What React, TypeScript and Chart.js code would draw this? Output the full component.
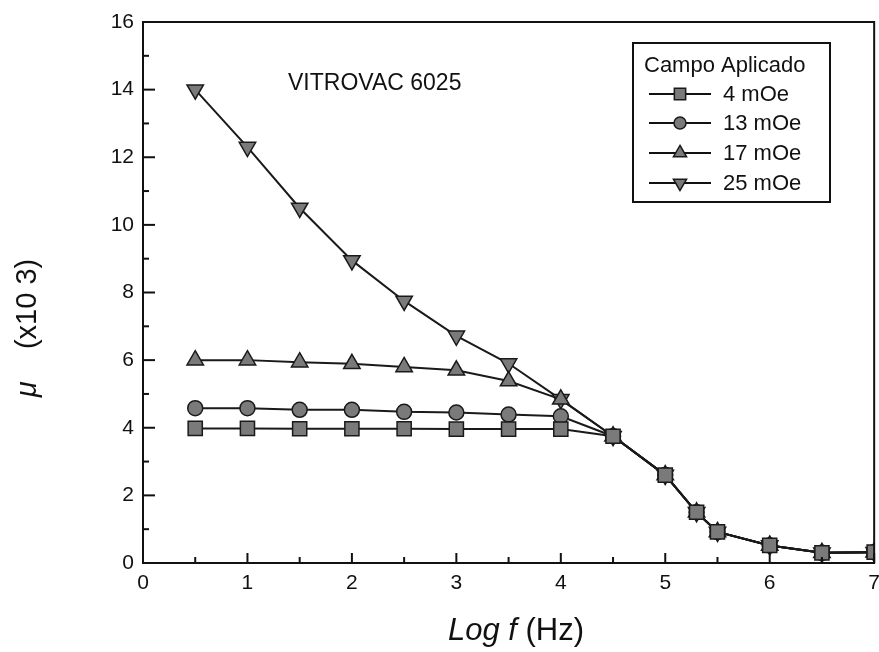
import React, { useEffect, useRef } from "react";
import { Chart, registerables } from "chart.js";

Chart.register(...registerables);

// ---- Data ----
const xLow = [0.5, 1, 1.5, 2, 2.5, 3, 3.5, 4];
const xTail = [4.5, 5, 5.3, 5.5, 6, 6.5, 7];
const tailValues = [3.75, 2.6, 1.5, 0.92, 0.52, 0.3, 0.32];

const series4 = [3.98, 3.98, 3.97, 3.97, 3.97, 3.96, 3.96, 3.96];
const series13 = [4.58, 4.58, 4.53, 4.53, 4.47, 4.45, 4.39, 4.34];
const series17 = [6.0, 6.0, 5.94, 5.89, 5.8, 5.7, 5.38, 4.84];
const series25 = [14.0, 12.3, 10.5, 8.95, 7.75, 6.72, 5.9, 4.84];

const seriesLabels = ["4 mOe", "13 mOe", "17 mOe", "25 mOe"];
const legendTitle = "Campo Aplicado";
const annotationText = "VITROVAC 6025";
const xTitleItalic = "Log f";
const xTitleNormal = " (Hz)";
const yTitleItalic = "\u03BC";
const yTitleNormal = "    (x10 3)";

const FONT = "'Liberation Sans', Arial, Helvetica, sans-serif";
const FILL = "#7a7a7a";
const STROKE = "#1a1a1a";

function toPoints(vals: number[]) {
  const pts = xLow.map((x, i) => ({ x, y: vals[i] }));
  return pts.concat(xTail.map((x, i) => ({ x, y: tailValues[i] })));
}

const styles = [
  { pointStyle: "rect", radius: 10, rotation: 0 },
  { pointStyle: "circle", radius: 7.5, rotation: 0 },
  { pointStyle: "triangle", radius: 9.5, rotation: 0 },
  { pointStyle: "triangle", radius: 9.5, rotation: 180 },
];

const allSeries = [series4, series13, series17, series25];

function drawMarker(ctx: CanvasRenderingContext2D, style: string, r: number, rot: number, x: number, y: number) {
  ctx.save();
  ctx.translate(x, y);
  ctx.rotate((rot * Math.PI) / 180);
  ctx.beginPath();
  if (style === "rect") {
    const s = r * Math.SQRT1_2;
    ctx.rect(-s, -s, 2 * s, 2 * s);
  } else if (style === "circle") {
    ctx.arc(0, 0, r, 0, Math.PI * 2);
  } else {
    for (let k = 0; k < 3; k++) {
      const a = -Math.PI / 2 + (k * 2 * Math.PI) / 3;
      const px = Math.cos(a) * r;
      const py = Math.sin(a) * r;
      if (k === 0) ctx.moveTo(px, py);
      else ctx.lineTo(px, py);
    }
    ctx.closePath();
  }
  ctx.fillStyle = FILL;
  ctx.strokeStyle = STROKE;
  ctx.lineWidth = 1.5;
  ctx.fill();
  ctx.stroke();
  ctx.restore();
}

const framePlugin = {
  id: "framePlugin",
  afterDraw(chart: any) {
    const ctx: CanvasRenderingContext2D = chart.ctx;
    const { left, right, top, bottom } = chart.chartArea;
    const xs = chart.scales.x;
    const ys = chart.scales.y;
    ctx.save();
    // frame
    ctx.strokeStyle = "#111";
    ctx.lineWidth = 2;
    ctx.strokeRect(left, top, right - left, bottom - top);
    // inward ticks
    for (let v = 0; v <= 16; v++) {
      const y = ys.getPixelForValue(v);
      const len = v % 2 === 0 ? 12 : 6;
      ctx.beginPath();
      ctx.moveTo(left, y);
      ctx.lineTo(left + len, y);
      ctx.stroke();
    }
    for (let v = 0; v <= 7; v += 0.5) {
      const x = xs.getPixelForValue(v);
      const len = Number.isInteger(v) ? 10 : 6;
      ctx.beginPath();
      ctx.moveTo(x, bottom);
      ctx.lineTo(x, bottom - len);
      ctx.stroke();
    }

    // annotation
    ctx.fillStyle = "#111";
    ctx.font = `23px ${FONT}`;
    ctx.textAlign = "left";
    ctx.textBaseline = "middle";
    ctx.fillText(annotationText, 288, 84);

    // legend
    const lx = 633, ly = 43, lw = 197, lh = 159;
    ctx.lineWidth = 2;
    ctx.strokeStyle = "#111";
    ctx.strokeRect(lx, ly, lw, lh);
    ctx.font = `22px ${FONT}`;
    ctx.fillText(legendTitle, lx + 11, ly + 23);
    const rows = [94, 123, 153, 183];
    for (let i = 0; i < 4; i++) {
      const ry = rows[i];
      ctx.beginPath();
      ctx.lineWidth = 2;
      ctx.moveTo(649, ry);
      ctx.lineTo(711, ry);
      ctx.stroke();
      drawMarker(ctx, styles[i].pointStyle, styles[i].radius * 0.8, styles[i].rotation, 680, ry);
      ctx.fillStyle = "#111";
      ctx.fillText(seriesLabels[i], 723, ry + 1);
    }

    // x title
    const xf = 31;
    ctx.font = `italic ${xf}px ${FONT}`;
    const w1 = ctx.measureText(xTitleItalic).width;
    ctx.font = `${xf}px ${FONT}`;
    const w2 = ctx.measureText(xTitleNormal).width;
    const cx = 516;
    const ty = 631;
    ctx.textAlign = "left";
    ctx.font = `italic ${xf}px ${FONT}`;
    ctx.fillText(xTitleItalic, cx - (w1 + w2) / 2, ty);
    ctx.font = `${xf}px ${FONT}`;
    ctx.fillText(xTitleNormal, cx - (w1 + w2) / 2 + w1, ty);

    // y title (rotated)
    const yf = 29;
    ctx.save();
    ctx.translate(28, 328);
    ctx.rotate(-Math.PI / 2);
    ctx.font = `italic ${yf}px ${FONT}`;
    const v1 = ctx.measureText(yTitleItalic).width;
    ctx.font = `${yf}px ${FONT}`;
    const v2 = ctx.measureText(yTitleNormal).width;
    ctx.font = `italic ${yf}px ${FONT}`;
    ctx.fillText(yTitleItalic, -(v1 + v2) / 2, 0);
    ctx.font = `${yf}px ${FONT}`;
    ctx.fillText(yTitleNormal, -(v1 + v2) / 2 + v1, 0);
    ctx.restore();

    ctx.restore();
  },
};

const CANVAS_W = 888;
const CANVAS_H = 652;

export default function App() {
  const canvasRef = useRef<HTMLCanvasElement | null>(null);

  useEffect(() => {
    document.body.style.margin = "0";
    const canvas = canvasRef.current;
    if (!canvas) return;
    const datasets = allSeries.map((vals, i) => ({
      label: seriesLabels[i],
      data: toPoints(vals),
      borderColor: STROKE,
      borderWidth: 2,
      backgroundColor: FILL,
      pointBackgroundColor: FILL,
      pointBorderColor: STROKE,
      pointBorderWidth: 1.5,
      pointStyle: styles[i].pointStyle as any,
      pointRadius: styles[i].radius,
      pointRotation: styles[i].rotation,
      showLine: true,
      tension: 0,
      fill: false,
    }));
    const chart = new Chart(canvas, {
      type: "scatter",
      data: { datasets },
      options: {
        animation: false,
        responsive: false,
        maintainAspectRatio: false,
        layout: { padding: { top: 22, right: 0, left: 0, bottom: 0 } },
        plugins: {
          legend: { display: false },
          tooltip: { enabled: false },
          title: { display: false },
        },
        scales: {
          x: {
            type: "linear",
            min: 0,
            max: 7,
            grid: { display: false, drawTicks: false },
            border: { display: false },
            ticks: {
              stepSize: 1,
              padding: 8,
              color: "#111",
              font: { family: FONT, size: 21 },
            },
            afterFit: (scale: any) => {
              scale.height = 89;
            },
          },
          y: {
            type: "linear",
            min: 0,
            max: 16,
            grid: { display: false, drawTicks: false },
            border: { display: false },
            ticks: {
              stepSize: 2,
              padding: 9,
              color: "#111",
              font: { family: FONT, size: 21 },
            },
            afterFit: (scale: any) => {
              scale.width = 143;
            },
          },
        },
      },
      plugins: [framePlugin],
    });
    return () => chart.destroy();
  }, []);

  return (
    <div style={{ position: "fixed", left: 0, top: 0, width: 879, height: 652, overflow: "hidden", background: "#fff" }}>
      <canvas ref={canvasRef} width={CANVAS_W} height={CANVAS_H} style={{ width: CANVAS_W, height: CANVAS_H, display: "block" }} />
    </div>
  );
}
